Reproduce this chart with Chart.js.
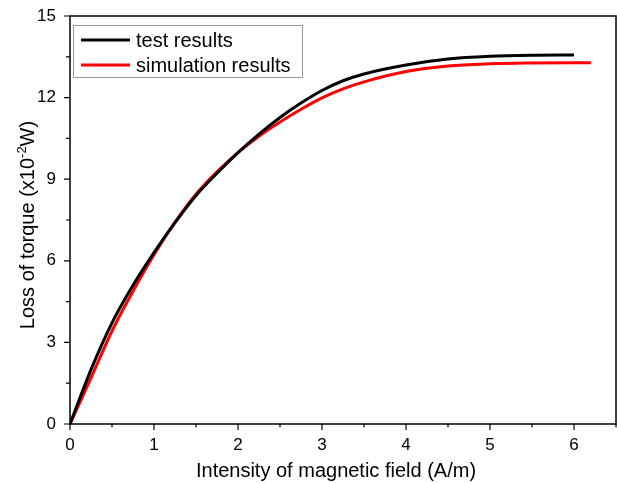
<!DOCTYPE html>
<html>
<head>
<meta charset="utf-8">
<script src="https://cdn.jsdelivr.net/npm/chart.js@4.4.0/dist/chart.umd.min.js"></script>
<style>
    html, body { margin: 0; padding: 0; background: #fff; }
    #wrap { width: 617px; height: 483px; }
</style>
</head>
<body>
<div id="wrap"><canvas id="chart" width="617" height="483"></canvas></div>
<script>
// Datos
const testX = [0, 0.25, 0.5, 0.75, 1, 1.25, 1.5, 1.75, 2, 2.25, 2.5, 2.75, 3, 3.25, 3.5, 4, 4.5, 5, 5.5, 6];
const testY = [0, 2.0, 3.72, 5.1, 6.3, 7.4, 8.4, 9.22, 9.98, 10.66, 11.27, 11.8, 12.26, 12.62, 12.87, 13.2, 13.42, 13.52, 13.56, 13.57];
const simX = [0, 0.25, 0.5, 0.75, 1, 1.25, 1.5, 1.75, 2, 2.25, 2.5, 2.75, 3, 3.25, 3.5, 4, 4.5, 5, 5.5, 6, 6.2];
const simY = [0, 1.7, 3.42, 4.88, 6.22, 7.42, 8.45, 9.27, 9.98, 10.58, 11.1, 11.57, 11.99, 12.32, 12.58, 12.96, 13.16, 13.24, 13.27, 13.28, 13.28];
const xTicks = [0, 1, 2, 3, 4, 5, 6];
const yTicks = [0, 3, 6, 9, 12, 15];
const seriesNames = ['test results', 'simulation results'];

const FONT = "'Liberation Sans', Arial, sans-serif";
const toPoints = (xs, ys) => xs.map((x, i) => ({ x, y: ys[i] }));

// Marco, marcas de ejes, títulos y leyenda
const decorations = {
    id: 'decorations',
    afterDraw(chart) {
        const { ctx, chartArea: a, scales } = chart;
        ctx.save();
        ctx.strokeStyle = '#000';
        ctx.lineWidth = 1.5;
        ctx.strokeRect(a.left, a.top, a.right - a.left, a.bottom - a.top);

        // ticks hacia fuera
        ctx.lineWidth = 1.2;
        ctx.beginPath();
        scales.x.ticks.forEach(t => {
            const px = scales.x.getPixelForValue(t.value);
            const len = xTicks.includes(t.value) ? 6 : 3.5;
            ctx.moveTo(px, a.bottom);
            ctx.lineTo(px, a.bottom + len);
        });
        scales.y.ticks.forEach(t => {
            const py = scales.y.getPixelForValue(t.value);
            const len = yTicks.includes(t.value) ? 6 : 4;
            ctx.moveTo(a.left, py);
            ctx.lineTo(a.left - len, py);
        });
        ctx.stroke();

        // título eje X
        ctx.fillStyle = '#000';
        ctx.font = `20px ${FONT}`;
        ctx.textAlign = 'center';
        ctx.textBaseline = 'alphabetic';
        ctx.fillText('Intensity of magnetic field (A/m)', 336, 477);

        // título eje Y con superíndice
        ctx.translate(34, 225);
        ctx.rotate(-Math.PI / 2);
        const p1 = 'Loss of torque (x10', sup = '-2', p3 = 'W)';
        ctx.font = `20px ${FONT}`;
        const w1 = ctx.measureText(p1).width, w3 = ctx.measureText(p3).width;
        ctx.font = `13px ${FONT}`;
        const w2 = ctx.measureText(sup).width;
        let x0 = -(w1 + w2 + w3) / 2;
        ctx.textAlign = 'left';
        ctx.font = `20px ${FONT}`;
        ctx.fillText(p1, x0, 0);
        ctx.font = `13px ${FONT}`;
        ctx.fillText(sup, x0 + w1, -8);
        ctx.font = `20px ${FONT}`;
        ctx.fillText(p3, x0 + w1 + w2, 0);
        ctx.setTransform(1, 0, 0, 1, 0, 0);

        // leyenda
        ctx.fillStyle = '#fff';
        ctx.fillRect(73, 25, 229, 52);
        ctx.strokeStyle = '#999';
        ctx.lineWidth = 1;
        ctx.strokeRect(73.5, 25.5, 229, 52);
        chart.data.datasets.forEach((ds, i) => {
            const y = 40 + i * 25;
            ctx.strokeStyle = ds.borderColor;
            ctx.lineWidth = 3;
            ctx.beginPath();
            ctx.moveTo(81, y);
            ctx.lineTo(130, y);
            ctx.stroke();
            ctx.fillStyle = '#000';
            ctx.font = `20px ${FONT}`;
            ctx.textAlign = 'left';
            ctx.textBaseline = 'middle';
            ctx.fillText(ds.label, 136, y + 1);
        });
        ctx.restore();
    }
};

new Chart(document.getElementById('chart'), {
    type: 'scatter',
    data: {
        datasets: [
            {
                label: seriesNames[0],
                data: toPoints(testX, testY),
                borderColor: '#000',
                borderWidth: 3,
                showLine: true,
                pointRadius: 0,
                cubicInterpolationMode: 'monotone'
            },
            {
                label: seriesNames[1],
                data: toPoints(simX, simY),
                borderColor: '#ff0000',
                borderWidth: 3,
                showLine: true,
                pointRadius: 0,
                cubicInterpolationMode: 'monotone'
            }
        ]
    },
    options: {
        responsive: false,
        animation: false,
        layout: { padding: { top: 16, right: 1, left: 0, bottom: 0 } },
        plugins: { legend: { display: false }, tooltip: { enabled: false } },
        scales: {
            x: {
                type: 'linear',
                min: 0,
                max: 6.5,
                afterFit: (s) => { s.height = 59; s.paddingLeft = 0; s.paddingRight = 0; },
                grid: { display: false, drawTicks: false },
                border: { display: false },
                ticks: {
                    stepSize: 0.5,
                    autoSkip: false,
                    maxRotation: 0,
                    padding: 11,
                    color: '#000',
                    font: { family: FONT, size: 17 },
                    callback: (v) => xTicks.includes(v) ? String(v) : ''
                }
            },
            y: {
                min: 0,
                max: 15,
                afterFit: (s) => { s.width = 70; s.paddingTop = 0; s.paddingBottom = 0; },
                grid: { display: false, drawTicks: false },
                border: { display: false },
                ticks: {
                    stepSize: 1.5,
                    autoSkip: false,
                    padding: 14,
                    color: '#000',
                    font: { family: FONT, size: 17 },
                    callback: (v) => yTicks.includes(v) ? String(v) : ''
                }
            }
        }
    },
    plugins: [decorations]
});
</script>
</body>
</html>
